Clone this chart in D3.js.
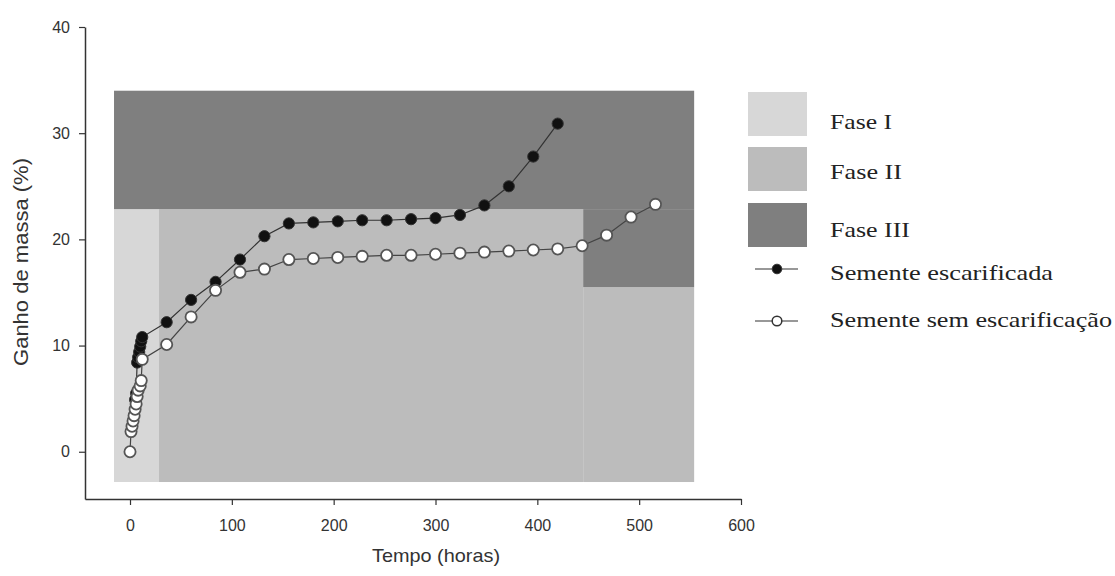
<!DOCTYPE html>
<html><head><meta charset="utf-8">
<script src="https://cdn.jsdelivr.net/npm/d3@7"></script>
<style>body{margin:0;background:#fff}svg{display:block}</style>
</head><body>
<svg id="c" width="1115" height="576"></svg>
<script>
// ---- data ----
const xTicks = [0, 100, 200, 300, 400, 500, 600];
const yTicks = [0, 10, 20, 30, 40];

const escHours = [5, 6, 7, 8, 9, 10, 11, 12, 36, 60, 84, 108, 132, 156, 180, 204, 228, 252, 276, 300, 324, 348, 372, 396, 420];
const escValues = [4.9, 5.5, 8.4, 8.9, 9.4, 9.9, 10.4, 10.8, 12.2, 14.3, 16.0, 18.1, 20.3, 21.5, 21.6, 21.7, 21.8, 21.8, 21.9, 22.0, 22.3, 23.2, 25.0, 27.8, 30.9];

const semHours = [0, 1, 2, 3, 4, 5, 6, 7, 8, 10, 11, 12, 36, 60, 84, 108, 132, 156, 180, 204, 228, 252, 276, 300, 324, 348, 372, 396, 420, 444, 468, 492, 516];
const semValues = [0, 1.9, 2.4, 2.9, 3.4, 4.0, 4.5, 5.2, 5.8, 6.2, 6.7, 8.7, 10.1, 12.7, 15.2, 16.9, 17.2, 18.1, 18.2, 18.3, 18.4, 18.5, 18.5, 18.6, 18.7, 18.8, 18.9, 19.0, 19.1, 19.4, 20.4, 22.1, 23.3];

// phase regions in data units: [hourStart, hourEnd, massLow, massHigh]
const faseI = [[-15.7, 28.5, -2.85, 22.85]];
const faseII = [[28.5, 445, -2.85, 22.85], [445, 554, -2.85, 15.5]];
const faseIII = [[-15.7, 554, 22.85, 34.0], [445, 554, 15.5, 22.85]];

const legendLabels = ["Fase I", "Fase II", "Fase III", "Semente escarificada", "Semente sem escarificação"];

// ---- drawing ----
const svg = d3.select("#c");
const x = d3.scaleLinear().domain([-44.2, 600]).range([85, 741]);
const y = d3.scaleLinear().domain([-4.45, 40]).range([499, 27]);

const colI = "#d7d7d7", colII = "#bcbcbc", colIII = "#7f7f7f";

function drawRects(arr, col) {
  svg.append("g").selectAll("rect").data(arr).join("rect")
    .attr("x", d => x(d[0])).attr("width", d => x(d[1]) - x(d[0]))
    .attr("y", d => y(d[3])).attr("height", d => y(d[2]) - y(d[3]))
    .attr("fill", col);
}
drawRects(faseI, colI);
drawRects(faseII, colII);
drawRects(faseIII, colIII);

// axes
const axisCol = "#333";
const sans = "Liberation Sans, Arial, sans-serif";
const gx = svg.append("g").attr("transform", `translate(0,${y.range()[0]})`)
  .call(d3.axisBottom(x).tickValues(xTicks).tickSize(6).tickPadding(15).tickSizeOuter(0));
const gy = svg.append("g").attr("transform", `translate(${x.range()[0]},0)`)
  .call(d3.axisLeft(y).tickValues(yTicks).tickSize(6).tickPadding(9).tickSizeOuter(0));
[gx, gy].forEach(g => {
  g.select(".domain").attr("stroke", axisCol).attr("stroke-width", 1.5);
  g.selectAll(".tick line").attr("stroke", axisCol).attr("stroke-width", 1.2);
  g.selectAll(".tick text").attr("fill", "#333").style("font-family", sans).style("font-size", "16px");
});

svg.append("text").attr("x", 436).attr("y", 562).attr("text-anchor", "middle")
  .style("font-family", sans).style("font-size", "19px").attr("fill", "#333")
  .attr("textLength", 128).attr("lengthAdjust", "spacingAndGlyphs")
  .text("Tempo (horas)");
svg.append("text").attr("transform", "translate(28,262) rotate(-90)").attr("text-anchor", "middle")
  .style("font-family", sans).style("font-size", "21px").attr("fill", "#333")
  .attr("textLength", 208).attr("lengthAdjust", "spacingAndGlyphs")
  .text("Ganho de massa (%)");

// series
const line = d3.line().x(d => x(d[0])).y(d => y(d[1]));
const esc = escHours.map((h, i) => [h, escValues[i]]);
const sem = semHours.map((h, i) => [h, semValues[i]]);

svg.append("path").datum(esc).attr("d", line).attr("fill", "none").attr("stroke", "#333").attr("stroke-width", 1.2);
svg.append("g").selectAll("circle").data(esc).join("circle")
  .attr("cx", d => x(d[0])).attr("cy", d => y(d[1])).attr("r", 5.6)
  .attr("fill", "#111").attr("stroke", "#333").attr("stroke-width", 1);

svg.append("path").datum(sem).attr("d", line).attr("fill", "none").attr("stroke", "#444").attr("stroke-width", 1.2);
svg.append("g").selectAll("circle").data(sem).join("circle")
  .attr("cx", d => x(d[0])).attr("cy", d => y(d[1])).attr("r", 5.6)
  .attr("fill", "#fff").attr("stroke", "#555").attr("stroke-width", 1.8);

// legend
const lg = svg.append("g");
const boxCols = [colI, colII, colIII];
const boxTops = [92, 147, 203];
lg.selectAll("rect").data(boxCols).join("rect")
  .attr("x", 748).attr("y", (d, i) => boxTops[i]).attr("width", 59).attr("height", 44).attr("fill", d => d);
const textBase = [129, 179, 237, 280, 327];
const textW = [62, 72, 80, 223, 282];
lg.selectAll("text").data(legendLabels).join("text")
  .attr("x", 830).attr("y", (d, i) => textBase[i])
  .attr("textLength", (d, i) => textW[i]).attr("lengthAdjust", "spacingAndGlyphs")
  .style("font-family", "Liberation Serif, Times New Roman, serif").style("font-size", "21px").attr("fill", "#222")
  .text(d => d);
const symY = [269, 321];
symY.forEach((sy, i) => {
  lg.append("line").attr("x1", 755).attr("x2", 798).attr("y1", sy).attr("y2", sy).attr("stroke", "#333").attr("stroke-width", 1.2);
  lg.append("circle").attr("cx", 777).attr("cy", sy).attr("r", 4.8)
    .attr("fill", i === 0 ? "#111" : "#fff").attr("stroke", "#333").attr("stroke-width", i === 0 ? 1 : 1.5);
});
</script>
</body></html>
